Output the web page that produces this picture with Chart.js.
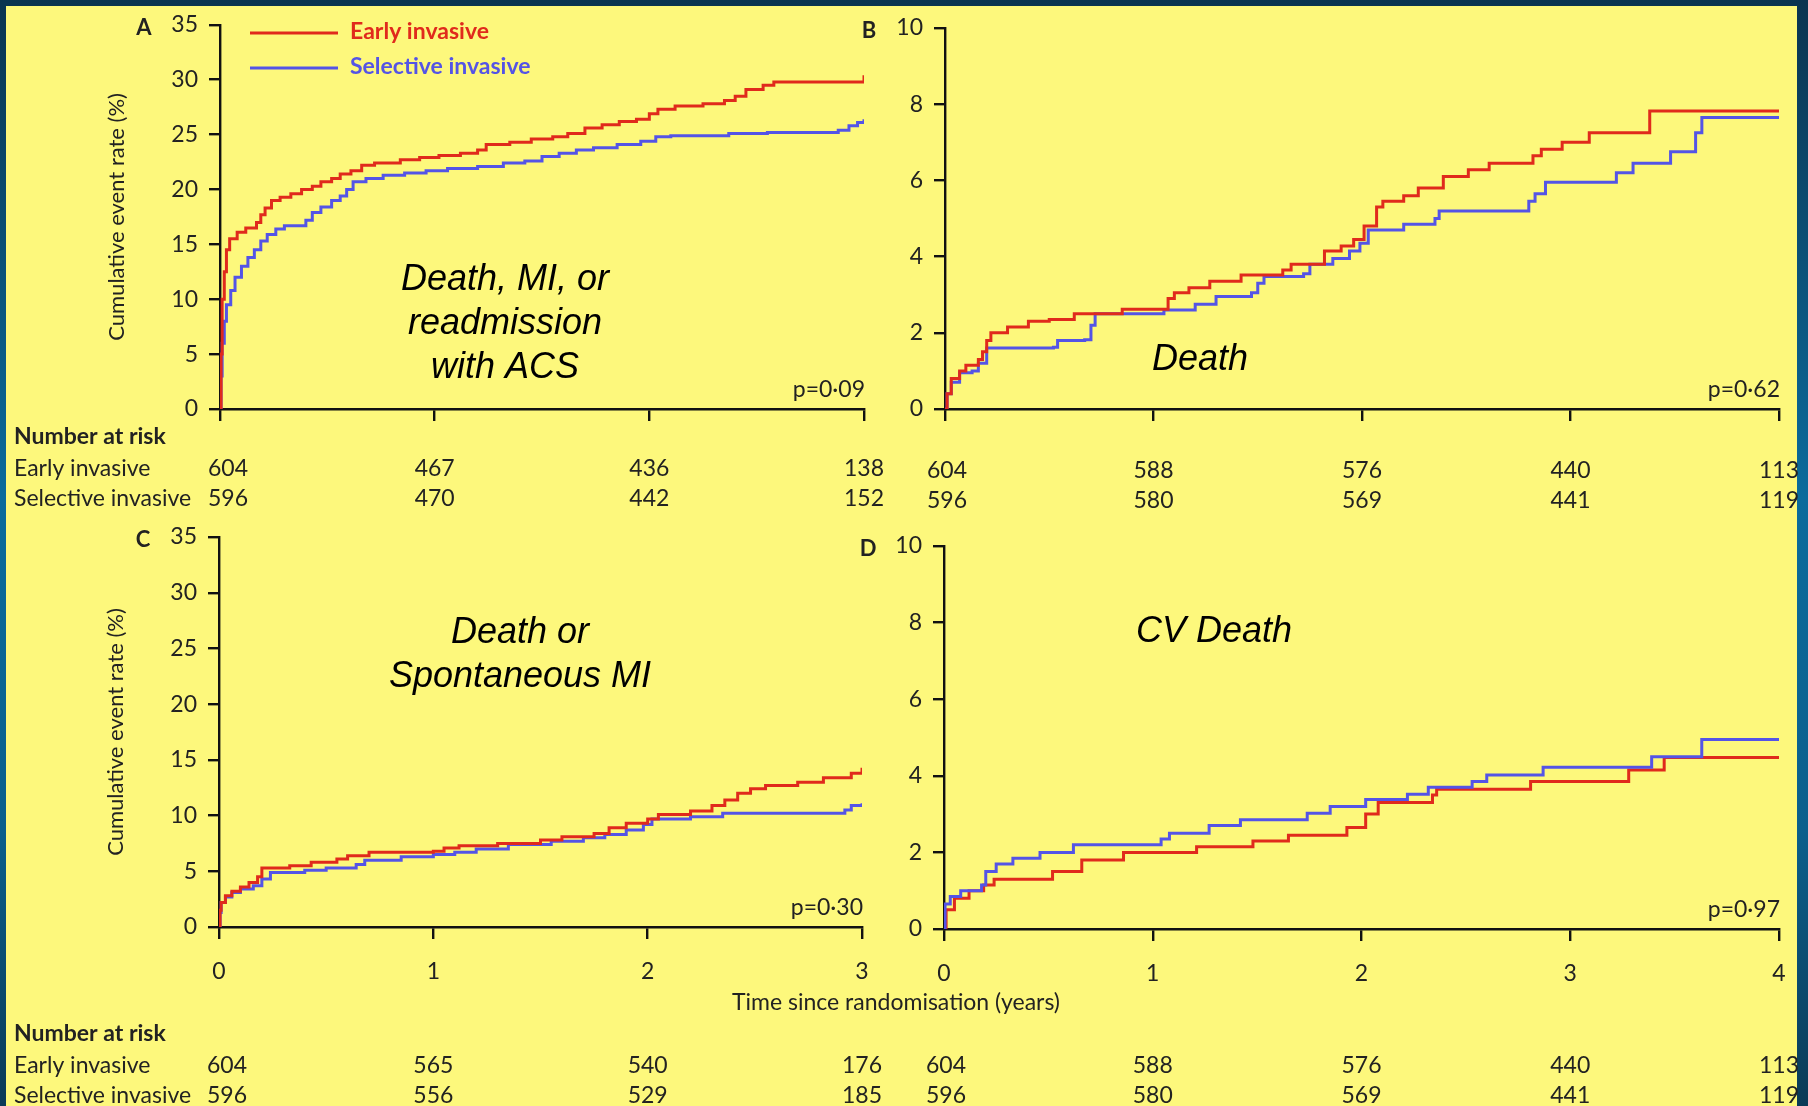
<!DOCTYPE html>
<html>
<head>
<meta charset="utf-8">
<script src="https://cdn.jsdelivr.net/npm/chart.js@4.4.1/dist/chart.umd.min.js"></script>
<style>
    body {
        margin: 0;
        width: 1808px;
        height: 1106px;
        overflow: hidden;
        position: relative;
        background: linear-gradient(to bottom, #0a3450 0%, #0a6b9c 45%, #0a5f8c 75%, #0a3a56 100%);
    }
    #paper {
        position: absolute;
        left: 6px;
        top: 6px;
        width: 1791px;
        height: 1100px;
        background: #fdf87c;
    }
    canvas {
        position: absolute;
        left: 0;
        top: 0;
    }
</style>
</head>
<body>
<div id="paper"></div>
<canvas id="panelA" width="1808" height="1106"></canvas>
<canvas id="panelB" width="1808" height="1106"></canvas>
<canvas id="panelC" width="1808" height="1106"></canvas>
<canvas id="panelD" width="1808" height="1106"></canvas>
<script>
const seriesNames = ['Early invasive', 'Selective invasive'];

// A: death, MI, or readmission with ACS (years, %)
const timeEarlyA = [0, 0.005, 0.01, 0.02, 0.03, 0.045, 0.08, 0.12, 0.17, 0.19, 0.21, 0.24, 0.28, 0.33, 0.38, 0.43, 0.47, 0.52, 0.56, 0.61, 0.66, 0.72, 0.84, 0.93, 1.02, 1.12, 1.2, 1.24, 1.35, 1.45, 1.55, 1.62, 1.7, 1.78, 1.86, 1.94, 2.0, 2.04, 2.12, 2.25, 2.35, 2.4, 2.45, 2.53, 2.58, 3.0];
const rateEarlyA = [0, 5, 10, 12.5, 14.5, 15.5, 16.1, 16.5, 17, 17.7, 18.3, 19, 19.3, 19.6, 20, 20.3, 20.7, 21, 21.4, 21.7, 22.2, 22.4, 22.7, 22.9, 23.1, 23.3, 23.6, 24.1, 24.3, 24.6, 24.8, 25.1, 25.6, 25.9, 26.2, 26.4, 26.9, 27.3, 27.6, 27.8, 28.1, 28.5, 29.1, 29.5, 29.8, 30.4];
const timeSelectiveA = [0, 0.005, 0.01, 0.02, 0.03, 0.05, 0.07, 0.1, 0.13, 0.16, 0.19, 0.22, 0.26, 0.3, 0.4, 0.43, 0.47, 0.52, 0.56, 0.59, 0.62, 0.68, 0.76, 0.86, 0.96, 1.06, 1.2, 1.32, 1.42, 1.5, 1.58, 1.66, 1.74, 1.85, 1.96, 2.03, 2.1, 2.37, 2.55, 2.88, 2.93, 2.97, 3.0];
const rateSelectiveA = [0, 3, 6, 8, 9.5, 10.8, 12, 13, 13.8, 14.5, 15.3, 15.9, 16.4, 16.7, 17.2, 17.9, 18.4, 19, 19.4, 20, 20.7, 21, 21.3, 21.5, 21.7, 21.9, 22.1, 22.4, 22.6, 23, 23.3, 23.6, 23.8, 24.1, 24.4, 24.8, 24.9, 25.1, 25.2, 25.4, 25.8, 26.1, 26.4];

// B: death
const timeEarlyB = [0, 0.01, 0.03, 0.07, 0.1, 0.16, 0.18, 0.2, 0.22, 0.3, 0.4, 0.5, 0.62, 0.85, 1.07, 1.1, 1.17, 1.27, 1.42, 1.62, 1.66, 1.82, 1.9, 1.96, 2.01, 2.07, 2.1, 2.2, 2.27, 2.39, 2.51, 2.61, 2.82, 2.86, 2.96, 3.09, 3.38, 4.0];
const rateEarlyB = [0, 0.4, 0.8, 1.0, 1.15, 1.3, 1.5, 1.8, 2.0, 2.15, 2.3, 2.35, 2.5, 2.62, 2.9, 3.05, 3.18, 3.35, 3.52, 3.65, 3.8, 4.15, 4.28, 4.45, 4.8, 5.3, 5.45, 5.6, 5.8, 6.1, 6.28, 6.45, 6.65, 6.82, 7.0, 7.25, 7.82, 7.82];
const timeSelectiveB = [0, 0.01, 0.03, 0.07, 0.13, 0.16, 0.2, 0.52, 0.54, 0.67, 0.7, 0.72, 1.05, 1.2, 1.3, 1.47, 1.5, 1.53, 1.72, 1.75, 1.86, 1.94, 1.99, 2.03, 2.2, 2.35, 2.37, 2.8, 2.83, 2.88, 3.22, 3.3, 3.48, 3.6, 3.63, 4.0];
const rateSelectiveB = [0, 0.4, 0.7, 0.95, 1.0, 1.2, 1.6, 1.62, 1.8, 1.82, 2.2, 2.5, 2.6, 2.75, 2.95, 3.05, 3.3, 3.48, 3.55, 3.8, 3.95, 4.15, 4.35, 4.7, 4.85, 5.0, 5.2, 5.45, 5.65, 5.95, 6.2, 6.45, 6.75, 7.25, 7.65, 7.65];

// C: death or spontaneous MI
const timeEarlyC = [0, 0.005, 0.01, 0.03, 0.06, 0.1, 0.14, 0.18, 0.2, 0.33, 0.43, 0.55, 0.6, 0.7, 1.0, 1.05, 1.12, 1.3, 1.5, 1.6, 1.75, 1.82, 1.9, 2.0, 2.05, 2.2, 2.3, 2.36, 2.42, 2.48, 2.55, 2.7, 2.82, 2.95, 3.0];
const rateEarlyC = [0, 1.5, 2.2, 2.8, 3.2, 3.6, 4.0, 4.5, 5.3, 5.5, 5.8, 6.1, 6.4, 6.7, 6.8, 7.1, 7.3, 7.5, 7.8, 8.1, 8.4, 8.9, 9.3, 9.7, 10.1, 10.4, 10.9, 11.4, 12.0, 12.4, 12.7, 13.0, 13.4, 13.8, 14.3];
const timeSelectiveC = [0, 0.005, 0.01, 0.03, 0.06, 0.1, 0.16, 0.2, 0.24, 0.4, 0.5, 0.64, 0.68, 0.85, 1.0, 1.1, 1.2, 1.35, 1.55, 1.7, 1.8, 1.9, 1.98, 2.02, 2.2, 2.35, 2.92, 2.95, 3.0];
const rateSelectiveC = [0, 1.3, 2.2, 2.7, 3.1, 3.4, 3.7, 4.3, 4.9, 5.1, 5.3, 5.6, 6.0, 6.3, 6.5, 6.7, 7.0, 7.4, 7.7, 8.0, 8.3, 8.7, 9.2, 9.7, 9.9, 10.2, 10.5, 10.9, 11.1];

// D: CV death
const timeEarlyD = [0, 0.01, 0.05, 0.12, 0.19, 0.24, 0.52, 0.66, 0.86, 1.21, 1.48, 1.65, 1.93, 2.02, 2.08, 2.34, 2.36, 2.81, 3.28, 3.45, 4.0];
const rateEarlyD = [0, 0.5, 0.8, 1.0, 1.15, 1.3, 1.5, 1.8, 2.0, 2.15, 2.3, 2.45, 2.65, 3.0, 3.3, 3.5, 3.65, 3.85, 4.15, 4.48, 4.48];
const timeSelectiveD = [0, 0.005, 0.03, 0.08, 0.18, 0.2, 0.25, 0.33, 0.46, 0.62, 1.04, 1.08, 1.27, 1.42, 1.74, 1.85, 2.02, 2.22, 2.32, 2.53, 2.6, 2.87, 3.39, 3.63, 4.0];
const rateSelectiveD = [0, 0.65, 0.85, 1.0, 1.15, 1.5, 1.7, 1.85, 2.0, 2.2, 2.35, 2.5, 2.7, 2.85, 3.02, 3.2, 3.38, 3.52, 3.7, 3.85, 4.02, 4.22, 4.5, 4.95, 4.95];

// number at risk, one value per whole year
const riskEarlyA = [604, 467, 436, 138];
const riskSelectiveA = [596, 470, 442, 152];
const riskEarlyB = [604, 588, 576, 440, 113];
const riskSelectiveB = [596, 580, 569, 441, 119];
const riskEarlyC = [604, 565, 540, 176];
const riskSelectiveC = [596, 556, 529, 185];
const riskEarlyD = [604, 588, 576, 440, 113];
const riskSelectiveD = [596, 580, 569, 441, 119];

(function() {
    const RED = '#e02a1c';
    const BLUE = '#5454e6';
    const INK = '#222';
    const FONT = 'Lato, "Open Sans", sans-serif';
    const TEXT_SIZE = 23;
    const PAGE_W = 1808;
    const PAGE_H = 1106;

    function toPoints(times, rates) {
        return times.map(function (t, i) {
            return { x: t, y: rates[i] };
        });
    }

    const panelPlugin = {
        id: 'panel',
        afterDraw: function (chart, args, opts) {
            const ctx = chart.ctx;
            const area = chart.chartArea;
            const xScale = chart.scales.x;

            ctx.save();
            ctx.fillStyle = INK;
            ctx.textBaseline = 'middle';

            ctx.font = 'bold 22px ' + FONT;
            ctx.textAlign = 'center';
            ctx.fillText(opts.letter, area.left - 76, area.top + 3);

            ctx.font = 'italic 36px "Liberation Sans", Arial, sans-serif';
            ctx.fillStyle = '#000';
            ctx.textBaseline = 'alphabetic';
            opts.title.forEach(function (line, i) {
                ctx.fillText(line, opts.titleX, opts.titleY + i * 44);
            });

            ctx.fillStyle = INK;
            ctx.textBaseline = 'middle';
            ctx.font = TEXT_SIZE + 'px ' + FONT;
            ctx.textAlign = 'right';
            ctx.fillText(opts.pValue, area.right + 1, area.bottom - 19);

            ctx.textAlign = 'center';
            const rows = [opts.riskEarly, opts.riskSelective];
            rows.forEach(function (values, r) {
                values.forEach(function (v, i) {
                    const shift = i === 0 ? opts.firstShift : 0;
                    ctx.fillText(String(v), xScale.getPixelForValue(i) + shift, opts.riskTop + 32 + r * 30);
                });
            });

            if (opts.rowLabels) {
                ctx.textAlign = 'left';
                ctx.font = 'bold ' + TEXT_SIZE + 'px ' + FONT;
                ctx.fillText('Number at risk', 14, opts.riskTop);
                ctx.font = TEXT_SIZE + 'px ' + FONT;
                ctx.fillText(seriesNames[0], 14, opts.riskTop + 32);
                ctx.fillText(seriesNames[1], 14, opts.riskTop + 62);
            }

            if (opts.legend) {
                const colors = [RED, BLUE];
                ctx.lineWidth = 3;
                ctx.font = 'bold ' + TEXT_SIZE + 'px ' + FONT;
                ctx.textAlign = 'left';
                seriesNames.forEach(function (name, i) {
                    const y = 33 + i * 35;
                    ctx.strokeStyle = colors[i];
                    ctx.beginPath();
                    ctx.moveTo(250, y);
                    ctx.lineTo(338, y);
                    ctx.stroke();
                    ctx.fillStyle = colors[i];
                    ctx.fillText(name, 350, y - 1);
                });
            }

            if (opts.xTitle) {
                ctx.fillStyle = INK;
                ctx.font = TEXT_SIZE + 'px ' + FONT;
                ctx.textAlign = 'center';
                ctx.fillText(opts.xTitle, 896, 1003);
            }
            ctx.restore();
        }
    };

    function renderPanel(idElement, cfg) {
        const yAxisWidth = cfg.yTitle ? 118 : 80;
        const xAxisHeight = 60;

        const early = {
            label: seriesNames[0],
            data: toPoints(cfg.timeEarly, cfg.rateEarly),
            borderColor: RED,
            backgroundColor: RED,
            borderWidth: 3,
            pointRadius: 0,
            stepped: true
        };

        const selective = {
            label: seriesNames[1],
            data: toPoints(cfg.timeSelective, cfg.rateSelective),
            borderColor: BLUE,
            backgroundColor: BLUE,
            borderWidth: 3,
            pointRadius: 0,
            stepped: true
        };

        return new Chart(document.getElementById(idElement), {
            type: 'line',
            data: {
                datasets: cfg.blueOnTop ? [selective, early] : [early, selective]
            },
            plugins: [panelPlugin],
            options: {
                responsive: false,
                animation: false,
                events: [],
                layout: {
                    padding: {
                        left: cfg.area.left - yAxisWidth,
                        right: PAGE_W - cfg.area.right,
                        top: cfg.area.top,
                        bottom: PAGE_H - cfg.area.bottom - xAxisHeight
                    }
                },
                scales: {
                    x: {
                        type: 'linear',
                        min: 0,
                        max: cfg.xMax,
                        afterFit: function (scale) { scale.height = xAxisHeight; },
                        border: { color: '#111', width: 2.4 },
                        grid: { drawOnChartArea: false, tickLength: 12, color: '#111', lineWidth: 2.4 },
                        ticks: {
                            display: cfg.xLabels,
                            stepSize: 1,
                            padding: 19,
                            color: INK,
                            font: { family: FONT, size: TEXT_SIZE }
                        }
                    },
                    y: {
                        min: 0,
                        max: cfg.yMax,
                        afterFit: function (scale) { scale.width = yAxisWidth; },
                        border: { color: '#111', width: 2.4 },
                        grid: { drawOnChartArea: false, tickLength: 11, color: '#111', lineWidth: 2.4 },
                        ticks: {
                            stepSize: cfg.yStep,
                            padding: 11,
                            color: INK,
                            font: { family: FONT, size: TEXT_SIZE }
                        },
                        title: {
                            display: !!cfg.yTitle,
                            text: cfg.yTitle || '',
                            color: INK,
                            padding: { top: 2, bottom: 4 },
                            font: { family: FONT, size: 22 }
                        }
                    }
                },
                plugins: {
                    legend: { display: false },
                    tooltip: { enabled: false },
                    panel: cfg.panel
                }
            }
        });
    }

    function init() {
        window.chartA = renderPanel('panelA', {
            area: { left: 220, right: 864, top: 20, bottom: 409 },
            xMax: 3, yMax: 35, yStep: 5, xLabels: false,
            yTitle: 'Cumulative event rate (%)',
            timeEarly: timeEarlyA, rateEarly: rateEarlyA,
            timeSelective: timeSelectiveA, rateSelective: rateSelectiveA,
            panel: {
                letter: 'A', title: ['Death, MI, or', 'readmission', 'with ACS'], titleX: 505, titleY: 290,
                pValue: 'p=0·09', riskEarly: riskEarlyA, riskSelective: riskSelectiveA,
                riskTop: 437, firstShift: 8, rowLabels: true, legend: true
            }
        });

        window.chartB = renderPanel('panelB', {
            area: { left: 945, right: 1779, top: 28, bottom: 409 },
            xMax: 4, yMax: 10, yStep: 2, xLabels: false,
            timeEarly: timeEarlyB, rateEarly: rateEarlyB,
            timeSelective: timeSelectiveB, rateSelective: rateSelectiveB,
            panel: {
                letter: 'B', title: ['Death'], titleX: 1200, titleY: 370,
                pValue: 'p=0·62', riskEarly: riskEarlyB, riskSelective: riskSelectiveB,
                riskTop: 439, firstShift: 2, rowLabels: false, legend: false
            }
        });

        window.chartC = renderPanel('panelC', {
            area: { left: 219, right: 862, top: 537, bottom: 927 },
            xMax: 3, yMax: 35, yStep: 5, xLabels: true,
            yTitle: 'Cumulative event rate (%)',
            timeEarly: timeEarlyC, rateEarly: rateEarlyC,
            timeSelective: timeSelectiveC, rateSelective: rateSelectiveC,
            panel: {
                letter: 'C', title: ['Death or', 'Spontaneous MI'], titleX: 520, titleY: 643,
                pValue: 'p=0·30', riskEarly: riskEarlyC, riskSelective: riskSelectiveC,
                riskTop: 1034, firstShift: 8, rowLabels: true, legend: false,
                xTitle: 'Time since randomisation (years)'
            }
        });

        window.chartD = renderPanel('panelD', {
            area: { left: 944, right: 1779, top: 546, bottom: 929 },
            xMax: 4, yMax: 10, yStep: 2, xLabels: true, blueOnTop: true,
            timeEarly: timeEarlyD, rateEarly: rateEarlyD,
            timeSelective: timeSelectiveD, rateSelective: rateSelectiveD,
            panel: {
                letter: 'D', title: ['CV Death'], titleX: 1214, titleY: 642,
                pValue: 'p=0·97', riskEarly: riskEarlyD, riskSelective: riskSelectiveD,
                riskTop: 1034, firstShift: 2, rowLabels: false, legend: false
            }
        });
    }

    init();
})();
</script>
</body>
</html>
